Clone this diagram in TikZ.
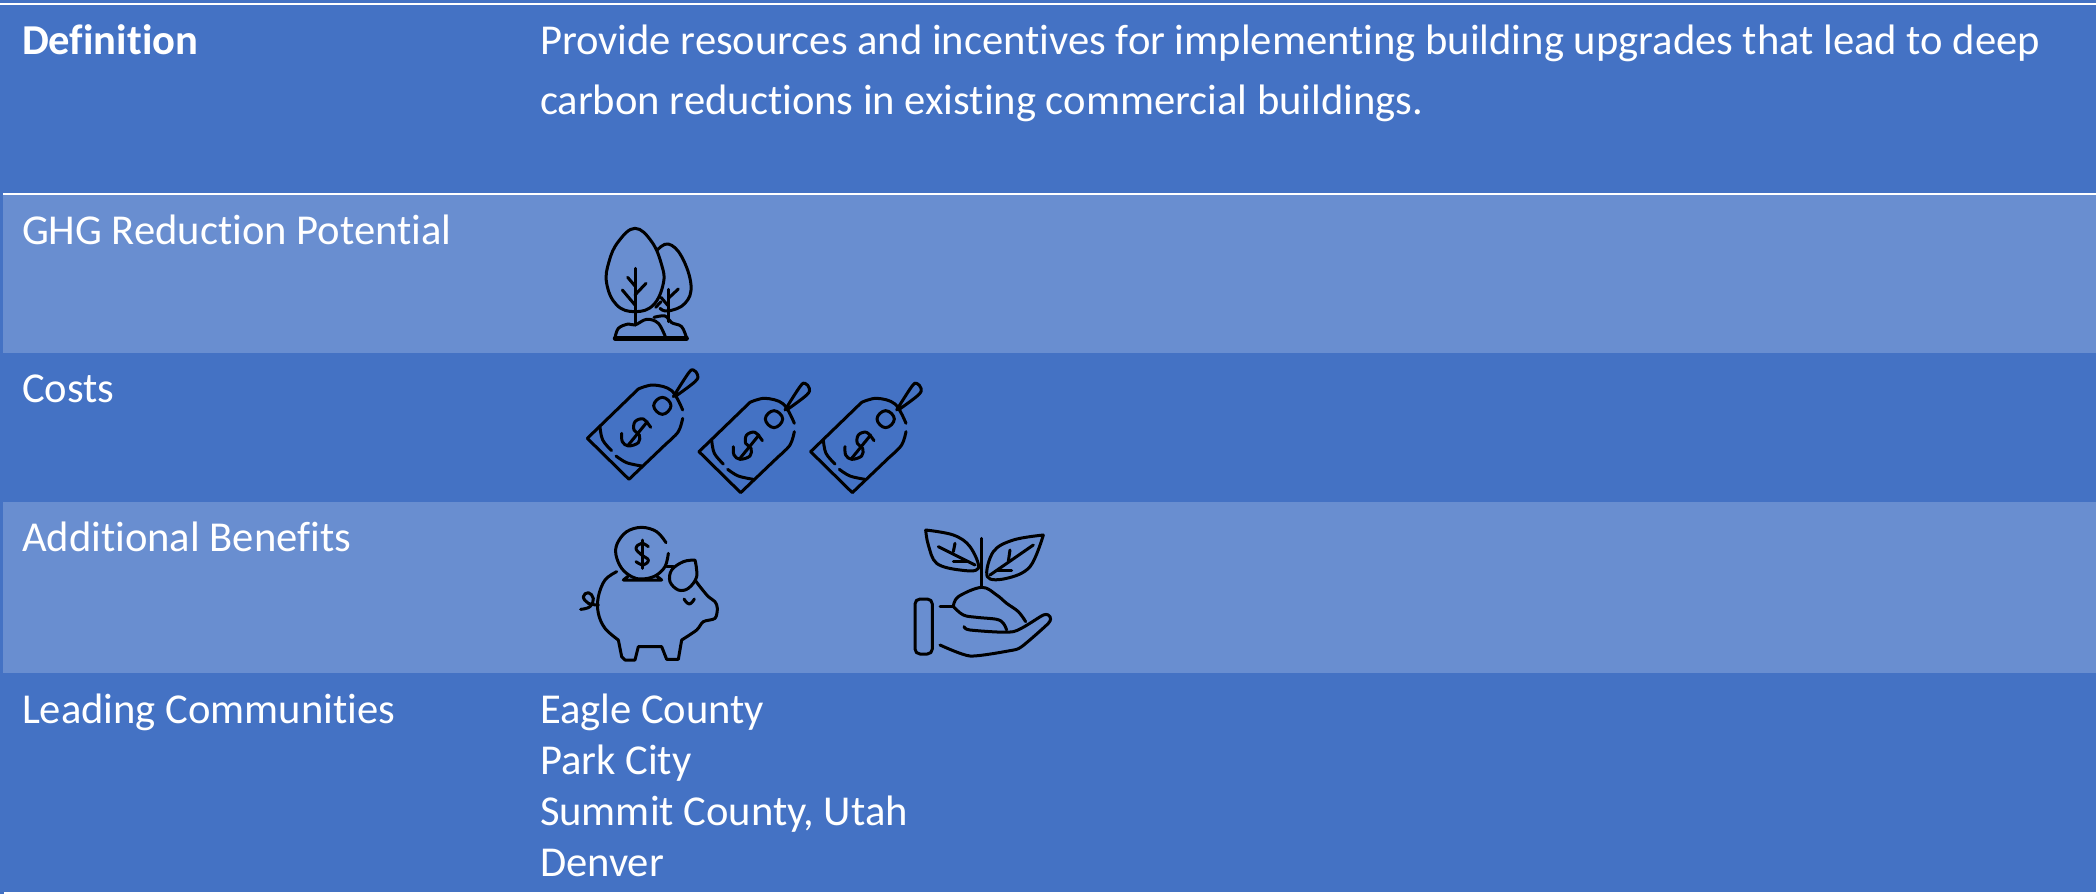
\documentclass[tikz,border=0pt]{standalone}
\usepackage{fontspec}
\setmainfont[Ligatures=NoCommon]{Carlito}
\definecolor{rowdark}{HTML}{4472C4}
\definecolor{rowlight}{HTML}{698ED0}
\tikzset{
  rowband/.style={fill=#1,draw=none},
  rule/.style={draw=white,line width=2.5pt},
  lab/.style={anchor=north west,inner sep=0pt,outer sep=0pt,text=white,align=left},
  txt/.style={lab,font=\fontsize{42.6}{51}\selectfont},
  txtwide/.style={lab,font=\fontsize{42.6}{60}\selectfont},
  icon/.style={draw=black,line width=3pt,line cap=round,line join=round,fill=none},
  zoomed/.style={x=0.33333pt,y=-0.33333pt},
  pricetag/.pic={
    \draw[icon] (82,715)--(207,838)--(320,730) plot[smooth,tension=.6] coordinates {(320,730)(355,695)(368,655)};
    \draw[icon] (82,715)--(235,567);
    \draw[icon] plot[smooth,tension=.6] coordinates {(235,567)(280,555)(335,572)(368,630)};
    \draw[icon] plot[smooth cycle,tension=.8] coordinates {(307,592)(333,617)(307,643)(281,617)};
    \draw[icon] plot[smooth,tension=.6] coordinates {(340,590)(385,520)(400,510)(413,525)(405,545)(345,590)};
    \draw[icon] plot[smooth,tension=.6] coordinates {(120,680)(128,720)(155,752)};
    \draw[icon] plot[smooth,tension=.6] coordinates {(168,768)(200,788)(245,798)};
    \draw[icon] plot[smooth,tension=.6] coordinates {(272,682)(250,657)(225,665)(222,690)(238,705)(235,728)(205,738)(187,725)(185,700)};
    \draw[icon] (205,735)--(262,665);
  }
}
\begin{document}
\begin{tikzpicture}[x=1pt,y=-1pt]
\useasboundingbox (0,0) rectangle (2096,894);
% bands
\fill[rowband=rowdark] (0,0) rectangle (2096,894);
\fill[rowband=rowlight] (3,195) rectangle (2096,353);
\fill[rowband=rowlight] (3,502) rectangle (2096,673);
% rules
\coordinate (topL) at (0,4); \coordinate (topR) at (2096,4);
\coordinate (midL) at (3,194); \coordinate (midR) at (2096,194);
\coordinate (botL) at (4,893.5); \coordinate (botR) at (2096,893.5);
\draw[rule] (topL)--(topR);
\draw[rule] (midL)--(midR);
\draw[rule] (botL)--(botR);
% text
\node[txt,font=\fontsize{42.6}{51}\selectfont\bfseries] (def) at (22,25) {Definition};
\node[txtwide] (deftext) at (540,25) {Provide resources and incentives for implementing building upgrades that lead to deep\\carbon reductions in existing commercial buildings.};
\node[txt] (ghg) at (22,215) {GHG Reduction Potential};
\node[txt] (costs) at (22,375) {Costs};
\node[txt] (ben) at (22,522) {Additional Benefits};
\node[txt] (lead) at (22,694) {Leading Communities};
\node[txt] (places) at (540,694) {Eagle County\\Park City\\Summit County, Utah\\Denver};
% tree
\begin{scope}[shift={(560,200)},zoomed]
  \draw[icon] plot[smooth cycle,tension=.7] coordinates {(225,85)(275,125)(305,195)(310,250)(280,315)(225,335)(170,315)(140,250)(147,185)(175,125)};
  \draw[icon] plot[smooth,tension=.7] coordinates {(292,150)(325,132)(365,170)(393,255)(375,310)(325,333)(300,325)};
  \draw[icon] (225,205)--(225,375);
  \draw[icon] (203,232)--(225,258);
  \draw[icon] (258,250)--(225,285);
  \draw[icon] (187,270)--(225,315);
  \draw[icon] (325,268)--(325,365);
  \draw[icon] (355,267)--(325,295);
  \draw[icon] (303,292)--(325,318);
  \draw[icon] (287,322)--(303,305);
  \draw[icon,line width=4.5pt] (165,415)--(380,415);
  \draw[icon] plot[smooth,tension=.6] coordinates {(165,415)(175,385)(205,372)(225,375)(260,358)(295,370)(318,415)};
  \draw[icon] plot[smooth,tension=.6] coordinates {(282,352)(315,348)(335,368)(365,380)(380,415)};
\end{scope}
% tags
\begin{scope}[shift={(560,200)},zoomed]
  \pic {pricetag};
  \pic[shift={(335,40)}] {pricetag};
  \pic[shift={(670,40)}] {pricetag};
\end{scope}
% piggy and hand
\begin{scope}[shift={(560,500)},zoomed]
  \draw[icon] plot[smooth,tension=.6] coordinates {(318,128)(290,95)(245,82)(200,95)(172,130)(168,165)(185,205)(215,230)(245,237)(285,228)(315,200)(325,160)};
  \draw[icon] plot[smooth,tension=.7] coordinates {(265,140)(245,130)(228,145)(245,165)(265,180)(250,195)(228,185)};
  \draw[icon] (247,120)--(247,205);
  \draw[icon] (205,228)--(190,240)--(305,240)--(290,228);
  \draw[icon] plot[smooth,tension=.6] coordinates {(170,215)(135,240)(115,290)(115,340)(135,385)(175,420)};
  \draw[icon] (175,420)--(185,470)--(195,480)--(225,480)--(235,440)--(305,440)--(320,478)--(355,478)--(365,420);
  \draw[icon] plot[smooth,tension=.5] coordinates {(365,420)(410,390)(430,365)(465,355)(472,325)(465,305)(445,290)(420,260)(405,240)};
  \draw[icon] plot[smooth,tension=.6] coordinates {(405,180)(370,185)(335,210)(330,245)(355,270)(385,265)(410,230)(405,180)};
  \draw[icon] (320,200)--(340,200);
  \draw[icon] plot[smooth,tension=.8] coordinates {(372,297)(388,312)(403,297)};
  \draw[icon] plot[smooth,tension=.7] coordinates {(62,328)(90,320)(100,295)(85,278)(70,290)(85,310)(115,315)};
  \draw[icon,rounded corners=5pt] (1065,297) rectangle (1117,462);
  \draw[icon] (1140,320)--(1180,320);
  \draw[icon] plot[smooth,tension=.6] coordinates {(1180,320)(1210,345)(1250,352)(1310,358)(1330,370)(1340,390)};
  \draw[icon] plot[smooth,tension=.6] coordinates {(1180,320)(1195,290)(1265,262)(1310,285)(1340,310)(1375,335)(1397,365)};
  \draw[icon] plot[smooth,tension=.4] coordinates {(1212,380)(1230,390)(1360,395)(1450,345)(1470,350)(1465,370)(1385,440)(1350,452)(1230,468)(1140,435)};
  \draw[icon] (1265,115)--(1265,262);
  \draw[icon] plot[smooth,tension=.6] coordinates {(1097,90)(1180,105)(1230,140)(1255,205)(1200,210)(1130,190)(1105,135)(1097,90)};
  \draw[icon] (1135,140)--(1245,195);
  \draw[icon] (1185,130)--(1180,155);
  \draw[icon] (1180,185)--(1225,185);
  \draw[icon] plot[smooth,tension=.6] coordinates {(1450,105)(1360,120)(1300,155)(1282,230)(1340,235)(1410,200)(1450,105)};
  \draw[icon] (1420,135)--(1290,225);
  \draw[icon] (1350,150)--(1345,185);
  \draw[icon] (1310,210)--(1355,210);
\end{scope}
\end{tikzpicture}
\end{document}
